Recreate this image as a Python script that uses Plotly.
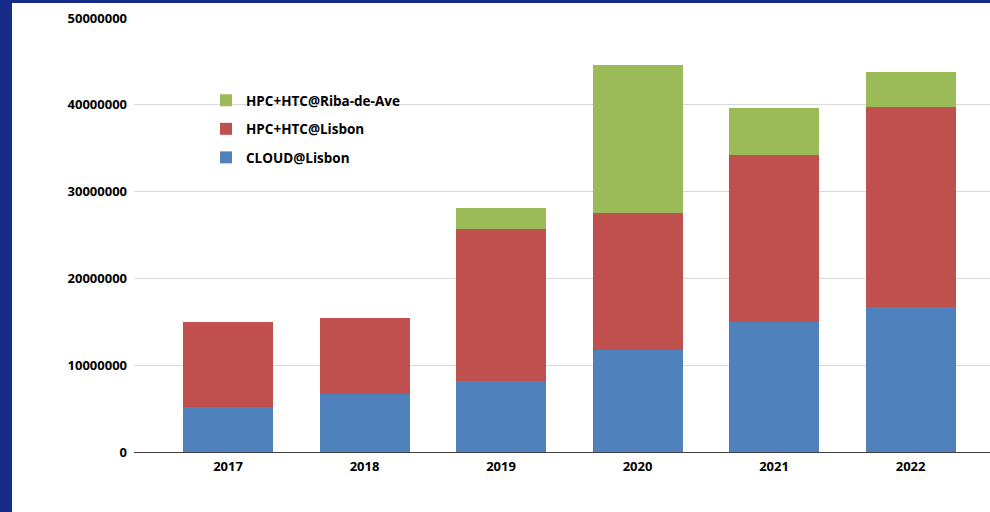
import plotly.graph_objects as go

years = ["2017", "2018", "2019", "2020", "2021", "2022"]
cloud_lisbon = [5200000, 6660000, 8190000, 11760000, 14920000, 16720000]
hpc_lisbon = [9780000, 8760000, 17500000, 15740000, 19300000, 23070000]
hpc_riba = [0, 0, 2380000, 17100000, 5380000, 4040000]
y_ticks = [0, 10000000, 20000000, 30000000, 40000000, 50000000]

series = [
    ("CLOUD@Lisbon", cloud_lisbon, "#4F81BD", 3),
    ("HPC+HTC@Lisbon", hpc_lisbon, "#C0504D", 2),
    ("HPC+HTC@Riba-de-Ave", hpc_riba, "#9BBB59", 1),
]

fig = go.Figure()
for name, vals, col, rank in series:
    fig.add_trace(go.Bar(
        x=years, y=vals, name=name, legendgroup=name, legendrank=rank,
        marker=dict(color=col, line=dict(width=0)),
    ))

W, H = 990, 512
L, R, T, B = 134, 0, 18, 60
pw = W - L - R
ph = H - T - B

fig.update_layout(
    width=W, height=H,
    barmode="stack",
    bargap=0.34,
    paper_bgcolor="#172b88",
    plot_bgcolor="rgba(0,0,0,0)",
    margin=dict(l=L, r=R, t=T, b=B, pad=0),
    font=dict(family="Open Sans", size=13, color="#000000", weight="bold"),
    showlegend=True,
    legend=dict(
        x=(206 - L) / pw, y=(452 - 85) / ph, xanchor="left", yanchor="top",
        traceorder="grouped", tracegroupgap=8,
        bgcolor="rgba(0,0,0,0)", borderwidth=0,
        font=dict(family="Open Sans", size=13.5, color="#000000", weight="bold"),
    ),
    shapes=[dict(
        type="rect", xref="paper", yref="paper",
        x0=(12 - L) / pw, x1=1.05, y0=-0.3, y1=(452 - 3) / ph,
        fillcolor="#ffffff", line=dict(width=0), layer="below",
    )],
    xaxis=dict(
        type="category",
        range=[-0.689, 5.582],
        showline=True, linecolor="#404040", linewidth=1,
        showgrid=False, ticks="",
        ticklabelstandoff=2,
        tickfont=dict(family="Open Sans", size=13, color="#000000", weight="bold"),
    ),
    yaxis=dict(
        range=[0, 50000000],
        tickvals=y_ticks,
        tickformat="d",
        showgrid=True, gridcolor="#d9d9d9", gridwidth=1,
        zeroline=False, showline=False, ticks="",
        ticklabelstandoff=6,
        tickfont=dict(family="Open Sans", size=13, color="#000000", weight="bold"),
    ),
)

fig.write_html("out.html")
